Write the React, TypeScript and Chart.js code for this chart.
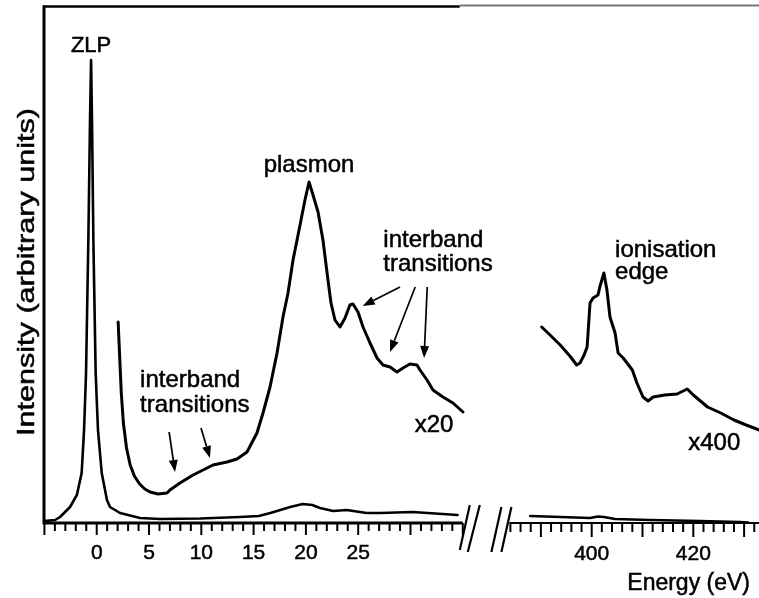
import React, { useEffect, useRef } from "react";
import { Chart, registerables } from "chart.js";

Chart.register(...registerables);

const FONT = '"Liberation Sans", Arial, Helvetica, sans-serif';

// ---------- data (energy in eV, intensity in arbitrary units) ----------
// low-loss spectrum, x1
const lowLossEnergy = [-5.04, -3.98, -3.5, -2.55, -1.9, -1.44, -1.21, -1.02, -0.8, -0.64, -0.54, -0.45, -0.32, -0.1, 0.12, 0.48, 0.98, 1.27, 2.23, 4.14, 6.05, 9.9, 13.7, 15.5, 16.6, 18.5, 19.7, 20.6, 21.35, 22.6, 23.9, 25.8, 27.1, 30.2, 34.5];
const lowLossIntensity = [2, 3, 6, 16, 28, 50, 93, 150, 283, 403, 463, 403, 283, 150, 93, 50, 23, 16, 10, 5, 4, 4.5, 6, 7, 10, 16, 19, 18, 15, 12, 13, 10, 10, 11, 8];

// low-loss spectrum, x20
const lowLossX20Energy = [2.05, 2.2, 2.35, 2.55, 2.85, 3.2, 3.6, 4.1, 4.6, 5.1, 5.86, 6.72, 7.0, 7.96, 9.21, 10.55, 11.12, 12.46, 13.41, 14.37, 15.32, 15.9, 16.57, 17.24, 17.81, 18.29, 18.77, 19.44, 19.91, 20.3, 20.68, 21.16, 21.63, 22.11, 22.4, 22.78, 23.26, 23.74, 24.21, 24.5, 24.98, 25.46, 26.13, 26.8, 27.37, 28.04, 28.71, 29.28, 29.95, 30.62, 30.91, 31.58, 32.15, 33.1, 34.06, 35.02];
const lowLossX20Intensity = [201, 165, 130, 100, 75, 58, 47, 39, 34, 31, 29, 30, 33, 40, 48, 55, 58, 61, 64, 71, 90, 110, 136, 170, 206, 230, 263, 298, 323, 341, 328, 311, 283, 243, 220, 203, 196, 205, 218, 219, 211, 196, 180, 165, 158, 156, 151, 155, 159, 158, 153, 143, 133, 126, 120, 111];

// core-loss spectrum, x1
const coreLossEnergy = [387.9, 393.8, 399.7, 401.2, 402.4, 404.6, 411.5, 421.3, 429.2, 430.8];
const coreLossIntensity = [7, 6, 5, 6.5, 6, 4, 3, 2, 1, 0.5];

// core-loss spectrum, x400
const coreLossX400Energy = [390.16, 391.8, 393.8, 395.7, 397.05, 397.7, 398.5, 399.1, 399.67, 400.26, 401.24, 401.6, 402.4, 403.0, 403.6, 404.6, 405.2, 406.2, 408.0, 408.9, 410.1, 411.1, 412.1, 414.4, 416.8, 418.8, 420.0, 422.8, 425.4, 428.0, 430.4, 433.0];
const coreLossX400Intensity = [196, 188, 178, 167, 158, 160, 168, 176, 220, 225, 228, 236, 250, 233, 206, 190, 170, 165, 153, 140, 126, 122, 126, 128, 129, 134, 128, 116, 110, 103, 98, 93];

// axes
const lowAxisRange = [-5, 35];
const lowTickLabels = [0, 5, 10, 15, 20, 25];
const coreAxisRange = [384, 432];
const coreTickLabels = [400, 420];

// annotations (anchored in data coordinates)
const annotationTexts = ["ZLP", "plasmon", "interband", "transitions", "interband", "transitions", "x20", "ionisation", "edge", "x400"];
const annotationAxis = ["xL", "xL", "xL", "xL", "xL", "xL", "xL", "xR", "xR", "xR"];
const annotationX = [-0.54, 20.3, 27.4, 27.4, 4.15, 4.15, 30.4, 404.6, 404.6, 419.0];
const annotationY = [471, 351, 276, 252, 136, 111, 91, 266, 244, 73];
const annotationAlign = ["center", "center", "left", "left", "left", "left", "left", "left", "left", "left"];

// arrows in data coordinates of the low-loss axis
const arrowFromX = [6.92, 9.97, 29.0, 30.45, 31.6];
const arrowFromY = [91, 95, 236, 236, 236];
const arrowToX = [7.49, 10.83, 25.43, 28.04, 31.3];
const arrowToY = [51, 65, 217, 171, 165];

const toPoints = (xs: number[], ys: number[]) => xs.map((x, i) => ({ x, y: ys[i] }));

function drawArrow(ctx: CanvasRenderingContext2D, x1: number, y1: number, x2: number, y2: number) {
  const ang = Math.atan2(y2 - y1, x2 - x1);
  const headLen = 12;
  const headW = 4.5;
  const bx = x2 - headLen * Math.cos(ang);
  const by = y2 - headLen * Math.sin(ang);
  ctx.beginPath();
  ctx.moveTo(x1, y1);
  ctx.lineTo(bx, by);
  ctx.lineWidth = 1.7;
  ctx.stroke();
  ctx.beginPath();
  ctx.moveTo(x2, y2);
  ctx.lineTo(bx + headW * Math.sin(ang), by - headW * Math.cos(ang));
  ctx.lineTo(bx - headW * Math.sin(ang), by + headW * Math.cos(ang));
  ctx.closePath();
  ctx.fill();
}

function seg(ctx: CanvasRenderingContext2D, x1: number, y1: number, x2: number, y2: number) {
  ctx.beginPath();
  ctx.moveTo(x1, y1);
  ctx.lineTo(x2, y2);
  ctx.stroke();
}

function heavyText(ctx: CanvasRenderingContext2D, t: string, x: number, y: number) {
  ctx.fillText(t, x, y);
  ctx.lineWidth = 0.5;
  ctx.strokeText(t, x, y);
}

const framePlugin = {
  id: "eelsFrame",
  beforeDatasetsDraw(chart: any) {
    const ctx: CanvasRenderingContext2D = chart.ctx;
    const { left, right, top, bottom } = chart.chartArea;
    const xL = chart.scales.xL;
    const xR = chart.scales.xR;
    ctx.save();
    ctx.strokeStyle = "#000";
    ctx.fillStyle = "#000";

    // top frame
    const lEnd = xL.getPixelForValue(lowAxisRange[1]);
    ctx.lineWidth = 2.5;
    seg(ctx, left - 1, top - 0.5, lEnd - 3, top - 0.5);
    ctx.strokeStyle = "#777";
    ctx.lineWidth = 2;
    seg(ctx, lEnd - 3, top - 1.5, right, top - 1.5);
    ctx.strokeStyle = "#000";

    // y axis
    ctx.lineWidth = 3;
    seg(ctx, left, top - 1.5, left, bottom + 1.5);

    // low-loss x axis
    ctx.lineWidth = 3;
    seg(ctx, left, bottom, lEnd, bottom);
    ctx.lineWidth = 2;
    for (let v = lowAxisRange[0]; v <= lowAxisRange[1]; v += 1) {
      const p = xL.getPixelForValue(v);
      const major = v % 5 === 0;
      seg(ctx, p, bottom, p, bottom + (major ? 12 : 8));
    }
    // core-loss x axis
    const rStart = xR.getPixelForValue(coreAxisRange[0]) - 1;
    ctx.lineWidth = 1.8;
    seg(ctx, rStart, bottom, right, bottom);
    ctx.lineWidth = 2;
    for (let v = coreAxisRange[0]; v <= coreAxisRange[1]; v += 2) {
      const p = xR.getPixelForValue(v);
      const major = v % 10 === 0;
      seg(ctx, p, bottom, p, bottom + (major ? 14 : 9));
    }

    // axis break marks
    ctx.lineWidth = 2.2;
    seg(ctx, lEnd - 3, bottom + 27, lEnd + 7, bottom - 18);
    seg(ctx, lEnd + 5, bottom + 29, lEnd + 17, bottom - 18);
    seg(ctx, rStart - 18, bottom + 29, rStart - 8, bottom - 16);
    seg(ctx, rStart - 8, bottom + 29, rStart + 2, bottom - 16);

    // tick labels
    ctx.font = `21px ${FONT}`;
    ctx.textAlign = "center";
    ctx.textBaseline = "alphabetic";
    lowTickLabels.forEach((v) => heavyText(ctx, String(v), xL.getPixelForValue(v), bottom + 36));
    coreTickLabels.forEach((v) => heavyText(ctx, String(v), xR.getPixelForValue(v), bottom + 37));

    // axis titles
    ctx.font = `23px ${FONT}`;
    ctx.textAlign = "right";
    heavyText(ctx, "Energy (eV)", right - 9, bottom + 67);

    ctx.save();
    ctx.font = `24px ${FONT}`;
    const title = "Intensity (arbitrary units)";
    const w = ctx.measureText(title).width;
    const target = 328;
    ctx.translate(27, (top + bottom) / 2 + 7);
    ctx.rotate(-Math.PI / 2);
    ctx.scale(target / w, 1);
    ctx.textAlign = "center";
    ctx.textBaseline = "middle";
    heavyText(ctx, title, 0, 0);
    ctx.restore();

    ctx.restore();
  },
  afterDraw(chart: any) {
    const ctx: CanvasRenderingContext2D = chart.ctx;
    const yS = chart.scales.y;
    ctx.save();
    ctx.fillStyle = "#000";
    ctx.strokeStyle = "#000";
    ctx.textBaseline = "alphabetic";
    annotationTexts.forEach((t, i) => {
      const sc = chart.scales[annotationAxis[i]];
      ctx.font = i === 0 ? `22px ${FONT}` : `24px ${FONT}`;
      ctx.textAlign = annotationAlign[i] as CanvasTextAlign;
      heavyText(ctx, t, sc.getPixelForValue(annotationX[i]), yS.getPixelForValue(annotationY[i]));
    });
    const xL = chart.scales.xL;
    arrowFromX.forEach((_, i) => {
      drawArrow(
        ctx,
        xL.getPixelForValue(arrowFromX[i]),
        yS.getPixelForValue(arrowFromY[i]),
        xL.getPixelForValue(arrowToX[i]),
        yS.getPixelForValue(arrowToY[i])
      );
    });
    ctx.restore();
  },
};

export default function App() {
  const canvasRef = useRef<HTMLCanvasElement | null>(null);

  useEffect(() => {
    document.body.style.margin = "0";
    const canvas = canvasRef.current;
    if (!canvas) return;
    const lineStyle = {
      borderColor: "#000",
      borderWidth: 3,
      pointRadius: 0,
      tension: 0,
      fill: false,
      borderJoinStyle: "round" as const,
      borderCapStyle: "round" as const,
    };
    const chart = new Chart(canvas, {
      type: "line",
      data: {
        datasets: [
          { ...lineStyle, borderWidth: 2.6, label: "low loss", data: toPoints(lowLossEnergy, lowLossIntensity), xAxisID: "xL", yAxisID: "y" },
          { ...lineStyle, label: "low loss x20", data: toPoints(lowLossX20Energy, lowLossX20Intensity), xAxisID: "xL", yAxisID: "y" },
          { ...lineStyle, borderWidth: 2.6, label: "core loss", data: toPoints(coreLossEnergy, coreLossIntensity), xAxisID: "xR", yAxisID: "y" },
          { ...lineStyle, label: "core loss x400", data: toPoints(coreLossX400Energy, coreLossX400Intensity), xAxisID: "xR", yAxisID: "y" },
        ],
      },
      options: {
        animation: false,
        responsive: false,
        maintainAspectRatio: false,
        parsing: false,
        normalized: true,
        layout: { padding: { left: 44, right: 0, top: 7, bottom: 75 } },
        plugins: { legend: { display: false }, tooltip: { enabled: false } },
        events: [],
        scales: {
          xL: { type: "linear", display: false, min: -5.04, max: 63.32 },
          xR: { type: "linear", display: false, min: 292.2, max: 432.93 },
          y: { type: "linear", display: false, min: 0, max: 516 },
        },
      },
      plugins: [framePlugin],
    });
    return () => chart.destroy();
  }, []);

  return (
    <div style={{ width: 759, height: 598, background: "#fff" }}>
      <canvas ref={canvasRef} width={759} height={598} style={{ display: "block" }} />
    </div>
  );
}
